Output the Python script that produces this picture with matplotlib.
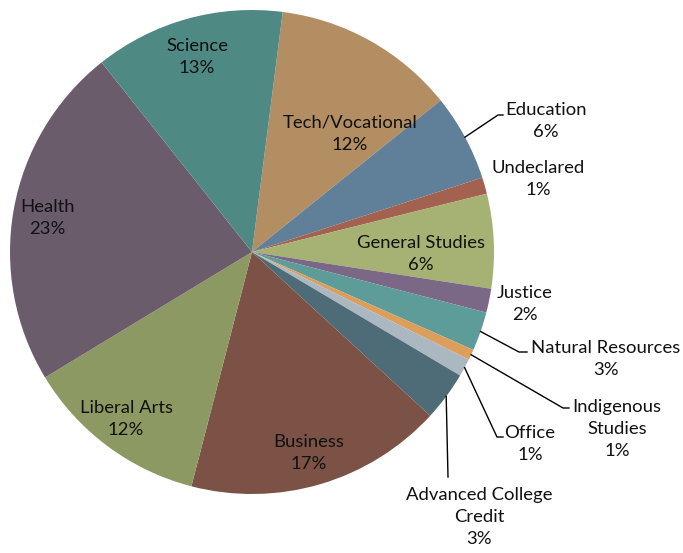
import numpy as np
import matplotlib
matplotlib.use("Agg")
import matplotlib.pyplot as plt

# ---- data (clockwise from the top) ----
categories = ["Tech/Vocational", "Education", "Undeclared", "General Studies", "Justice",
              "Natural Resources", "Indigenous\nStudies", "Office", "Advanced College\nCredit",
              "Business", "Liberal Arts", "Health", "Science"]
values = [12.2, 5.8, 1.1, 6.3, 1.6, 2.6, 0.7, 1.2, 3.3, 17.2, 12.3, 23.0, 12.7]
colors = ["#b28e62", "#5f8098", "#a3624f", "#a5b274", "#7b6886", "#5e9c9a", "#dc9e5b",
          "#abb8c2", "#4e6c78", "#7b5245", "#8c9963", "#6b5c6c", "#4f8983"]

# ---- layout (pixel coordinates, origin top-left) ----
W, H = 683, 553
CX, CY, R = 252, 252, 242
START_CW = 7.3  # degrees clockwise from 12 o'clock where first slice begins
label_pos = {
    "Tech/Vocational": (350, 134),
    "Education": (546, 121),
    "Undeclared": (538, 179),
    "General Studies": (421, 254),
    "Justice": (525, 304),
    "Natural Resources": (606, 359),
    "Indigenous\nStudies": (617, 429),
    "Office": (530, 444),
    "Advanced College\nCredit": (479, 517),
    "Business": (309, 453),
    "Liberal Arts": (126, 419),
    "Health": (47, 218),
    "Science": (197, 57),
}
# leader lines: elbow point and end point (pixels)
leaders = {
    "Education": [(498, 115), (503, 115)],
    "Natural Resources": [(519, 352), (527, 352)],
    "Indigenous\nStudies": [(563, 408), (569, 408)],
    "Office": [(497, 437), (503, 437)],
    "Advanced College\nCredit": [(448, 477)],
}

fig = plt.figure(figsize=(W / 100, H / 100), dpi=100)
ax = fig.add_axes([0, 0, 1, 1])

def P(x, y):
    return (x, H - y)

wedges, _ = ax.pie(values, colors=colors, startangle=90 - START_CW, counterclock=False,
                   center=P(CX, CY), radius=R, frame=True,
                   wedgeprops=dict(linewidth=0.6, edgecolor="none", antialiased=True))
ax.set_xlim(0, W)
ax.set_ylim(0, H)
ax.set_aspect("equal")
ax.axis("off")

for w, cat, v in zip(wedges, categories, values):
    pct = int(np.floor(v + 0.5))
    txt = f"{cat}\n{pct}%"
    x, y = label_pos[cat]
    ax.text(*P(x, y), txt, ha="center", va="center", fontsize=13.3,
            family=['Lato', 'DejaVu Sans'], color="#111111", linespacing=1.48)
    if cat in leaders:
        mid = np.deg2rad((w.theta1 + w.theta2) / 2)
        sx = w.center[0] + w.r * np.cos(mid)
        sy = w.center[1] + w.r * np.sin(mid)
        pts = [(sx, sy)] + [P(px, py) for px, py in leaders[cat]]
        xs, ys = zip(*pts)
        ax.plot(xs, ys, color="black", linewidth=1.0)

fig.savefig("out.png", dpi=100, facecolor="white")
